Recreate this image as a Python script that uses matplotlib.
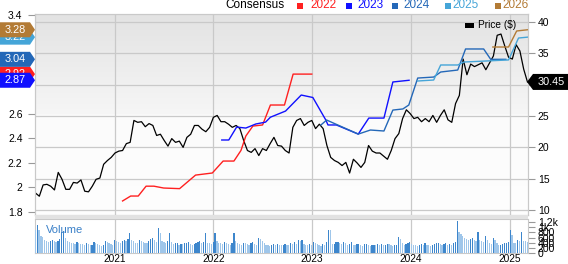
import numpy as np
import pandas as pd
import matplotlib
matplotlib.use("Agg")
import matplotlib.pyplot as plt
from matplotlib.patches import Polygon, Rectangle

plt.rcParams['font.family'] = ['Liberation Sans', 'DejaVu Sans']

W, H = 568, 264

# share price, sampled every two weeks ($)
price = [12.7, 12.2, 14.0, 14.1, 13.8, 13.2, 16.0, 14.9, 13.3, 13.3,
         14.4, 14.3, 14.8, 13.0, 12.9, 13.8, 14.9, 15.1, 17.3, 17.9,
         18.4, 19.1, 19.4, 19.5, 20.6, 20.8, 24.3, 24.0, 24.1, 23.3,
         23.8, 23.5, 21.9, 22.1, 21.1, 20.2, 21.4, 20.8, 21.0, 20.0,
         21.6, 22.1, 23.5, 23.5, 22.9, 22.5, 23.2, 24.8, 25.1, 24.1,
         24.1, 23.7, 23.2, 23.5, 23.0, 21.1, 19.5, 19.2, 19.8, 18.7,
         19.8, 19.5, 20.6, 21.6, 20.3, 20.2, 19.5, 19.1, 23.2, 24.3,
         24.6, 23.5, 24.0, 24.3, 23.0, 23.7, 23.0, 20.3, 18.4, 17.9,
         17.6, 17.1, 17.6, 15.9, 18.1, 17.5, 16.8, 17.6, 20.3, 19.4,
         19.1, 19.1, 18.6, 18.1, 19.5, 21.4, 22.2, 24.6, 26.0, 25.4,
         24.6, 24.8, 24.1, 24.6, 24.1, 25.1, 24.0, 25.1, 26.0, 24.4,
         24.0, 27.0, 28.3, 34.1, 31.6, 33.3, 32.9, 33.2, 33.5, 32.4,
         33.5, 34.6, 37.9, 38.1, 36.2, 34.4, 34.1, 36.4, 35.4, 32.5,
         30.45]
price_dates = pd.date_range('2020-03-14', periods=len(price), freq='14D')

# weekly volume (thousands)
volume = [880, 1080, 880, 650, 640, 500, 470, 430, 480, 520, 450, 420, 480, 560, 820, 840, 600, 450, 420, 390, 380, 360, 430, 400, 360, 340,
          320, 380, 350, 300, 330, 420, 380, 360, 300, 280, 330, 450, 420, 380, 350, 300, 520, 480, 430, 400, 450, 500, 480, 560, 770, 520,
          450, 400, 380, 520, 480, 420, 400, 380, 450, 550, 600, 500, 420, 960, 780, 480, 420, 380, 450, 790, 420, 350, 380, 400, 330, 360,
          340, 380, 400, 420, 360, 320, 350, 400, 420, 460, 380, 440, 770, 400, 380, 360, 420, 790, 480, 400, 380, 360, 420, 380, 350, 320,
          400, 770, 450, 380, 340, 320, 400, 380, 350, 330, 380, 420, 360, 320, 580, 560, 450, 380, 330, 300, 280, 310, 340, 300, 360, 330,
          300, 320, 340, 320, 300, 380, 350, 420, 340, 500, 480, 520, 340, 320, 300, 360, 330, 420, 400, 350, 300, 280, 340, 320, 420, 880,
          880, 340, 360, 420, 440, 400, 360, 440, 380, 300, 360, 440, 320, 300, 340, 360, 300, 280, 340, 360, 300, 280, 300, 320, 300, 340,
          320, 340, 300, 320, 360, 340, 300, 280, 320, 330, 620, 560, 380, 300, 340, 380, 420, 360, 320, 300, 280, 330, 340, 300, 380, 320,
          300, 280, 320, 350, 380, 400, 360, 320, 340, 380, 300, 360, 330, 380, 420, 1250, 800, 720, 650, 600, 560, 500, 560, 600, 520, 480,
          800, 520, 480, 420, 650, 500, 380, 350, 600, 520, 380, 300, 320, 340, 380, 400, 420, 880, 700, 400, 380, 500, 460, 800, 480, 450, 420]
vol_dates = pd.date_range('2020-03-13', periods=len(volume), freq='7D')

# consensus EPS estimates by fiscal year
fy2022_dates = ['2021-01-30', '2021-03-01', '2021-03-29', '2021-04-27', '2021-05-26', '2021-07-01',
                '2021-08-29', '2021-10-27', '2021-12-28', '2022-02-06', '2022-03-18', '2022-04-13',
                '2022-05-01', '2022-05-27', '2022-07-02', '2022-07-31', '2022-09-21', '2022-10-23',
                '2022-12-31']
fy2022 = [1.89, 1.93, 1.93, 2.01, 2.01, 1.995, 1.99, 2.10, 2.117, 2.214, 2.214, 2.30,
          2.417, 2.498, 2.507, 2.669, 2.669, 2.92, 2.92]

fy2023_dates = ['2022-02-01', '2022-02-27', '2022-03-28', '2022-05-01', '2022-06-07', '2022-07-13',
                '2022-07-31', '2022-09-25', '2022-11-22', '2023-01-04', '2023-02-21', '2023-03-01',
                '2023-04-01', '2023-06-21', '2023-07-30', '2023-09-24', '2023-10-27', '2023-12-26']
fy2023 = [2.385, 2.385, 2.49, 2.482, 2.515, 2.53, 2.57, 2.62, 2.75, 2.73, 2.547, 2.507,
          2.507, 2.433, 2.563, 2.563, 2.856, 2.87]

fy2024_dates = ['2023-02-03', '2023-02-24', '2023-06-21', '2023-08-05', '2023-09-24', '2023-10-27',
                '2023-12-03', '2023-12-25', '2024-01-27', '2024-03-26', '2024-04-21', '2024-06-23',
                '2024-07-22', '2024-09-27', '2024-10-23', '2024-12-18']
fy2024 = [2.507, 2.547, 2.433, 2.466, 2.458, 2.628, 2.637, 2.669, 2.888, 2.896, 2.937, 2.953,
          3.124, 3.124, 3.04, 3.04]

fy2025_dates = ['2024-01-27', '2024-03-26', '2024-04-21', '2024-06-23', '2024-07-16', '2024-12-28',
                '2025-02-03', '2025-03-08']
fy2025 = [2.864, 2.872, 2.994, 2.994, 3.018, 3.035, 3.213, 3.22]

fy2026_dates = ['2024-10-31', '2024-12-28', '2025-01-27', '2025-03-08']
fy2026 = [3.14, 3.14, 3.27, 3.28]

years = ['2022', '2023', '2024', '2025', '2026']
colors = ['#ff2020', '#1010ff', '#2468b8', '#45a5d8', '#b37b35']
last_eps = ['2.92', '2.87', '3.04', '3.22', '3.28']

year_ticks = pd.to_datetime(['2021-01-01', '2022-01-01', '2023-01-01', '2024-01-01', '2025-01-01'])
year_labels = ['2021', '2022', '2023', '2024', '2025']

price_ticks = [10, 15, 20, 25, 30, 35, 40]
eps_ticks = [1.8, 2, 2.2, 2.4, 2.6, 3.4]
vol_ticks = [0, 200, 400, 600, 800, 1000, 1200]
vol_labels = ['0', '200', '400', '600', '800', '1k', '1.2k']

PRICE_LIM = (9.2, 41.3)
EPS_LIM = (1.776, 3.408)
XLIM = (pd.Timestamp('2020-03-12'), pd.Timestamp('2025-03-10'))

fig = plt.figure(figsize=(W / 100, H / 100), dpi=100)
fig.patch.set_facecolor('white')

left, right, top, mid, vtop, vbot = 35, 528, 14, 215, 219, 253
main_rect = [left / W, 1 - mid / H, (right - left) / W, (mid - top) / H]
vol_rect = [left / W, 1 - vbot / H, (right - left) / W, (vbot - vtop) / H]

axp = fig.add_axes(main_rect)
axc = axp.twinx()
axv = fig.add_axes(vol_rect)

grid_c = '#c9c9c9'
tick_fs = 7.5

# gradient background
grad = np.ones((200, 1, 3))
t = np.linspace(0, 1, 200)
shade = np.where(t < 0.5, 0.89 + (0.965 - 0.89) * t / 0.5, 0.985 + 0.01 * (t - 0.5) / 0.5)
grad[:, 0, :] = shade[:, None]
axp.imshow(grad, aspect='auto', extent=[0, 1, 0, 1], transform=axp.transAxes, zorder=0)

axp.plot(price_dates, price, color='black', lw=0.9, zorder=4)
axp.set_ylim(*PRICE_LIM)
axp.set_xlim(*XLIM)
axp.yaxis.tick_right()
axp.set_yticks(price_ticks)
# the "30" label sits under the last-price tag
axp.set_yticklabels(['' if v == 30 else str(v) for v in price_ticks])
axp.set_xticks(year_ticks)
axp.tick_params(axis='x', length=0, labelbottom=False)
axp.tick_params(axis='y', length=5, width=0.8, color='#999999', pad=2, labelsize=tick_fs)
axp.grid(True, color=grid_c, lw=0.9)
axp.set_axisbelow(True)

series = [(fy2022_dates, fy2022), (fy2023_dates, fy2023), (fy2024_dates, fy2024),
          (fy2025_dates, fy2025), (fy2026_dates, fy2026)]
for (d, v), c in zip(series, colors):
    axc.plot(pd.to_datetime(d), v, color=c, lw=1.0)
axc.set_ylim(*EPS_LIM)
axc.set_xlim(*XLIM)
axc.yaxis.tick_left()
axc.set_yticks(eps_ticks)
axc.set_yticklabels(['1.8', '2', '2.2', '2.4', '2.6', '3.4'])
axc.tick_params(axis='y', length=5, width=0.8, color='#999999', pad=4, labelsize=tick_fs)

for a in (axp, axc):
    for s in a.spines.values():
        s.set_color(grid_c)
        s.set_linewidth(0.8)

# volume panel
vcol = ['#3d86cc' if i > 0 and volume[i] > volume[i - 1] else '#9fc6ea' for i in range(len(volume))]
axv.bar(vol_dates, volume, width=4.5, color=vcol, zorder=3)
axv.set_xlim(*XLIM)
axv.set_ylim(0, 1320)
axv.yaxis.tick_right()
axv.set_yticks(vol_ticks)
axv.set_yticklabels(vol_labels)
axv.tick_params(axis='y', length=5, width=0.8, color='#999999', pad=2, labelsize=tick_fs)
axv.set_xticks(year_ticks)
axv.set_xticklabels(year_labels)
axv.tick_params(axis='x', length=0, pad=0.5, labelsize=7.3)
axv.grid(True, axis='x', color=grid_c, lw=0.9)
axv.set_axisbelow(True)
for s in axv.spines.values():
    s.set_color(grid_c)
    s.set_linewidth(0.8)
axv.text(0.022, 0.68, 'Volume', transform=axv.transAxes, color='#3a80c8', fontsize=8, va='center')

# gray strip between the panels
fig.patches.append(Rectangle((left / W, 1 - vtop / H), (right - left) / W, (vtop - mid) / H,
                             transform=fig.transFigure, facecolor='#e2e2e2', edgecolor='none'))


def fx(x):
    return x / W


def fy(y):
    return 1 - y / H


# left tags with latest consensus values
def eps_px(val):
    return mid - (val - EPS_LIM[0]) / (EPS_LIM[1] - EPS_LIM[0]) * (mid - top)


order = [3, 4, 0, 2, 1]
for z, i in enumerate(order):
    yc = eps_px(float(last_eps[i]))
    pts = [(0, yc - 7.5), (30, yc - 7.5), (35, yc), (30, yc + 7.5), (0, yc + 7.5)]
    fig.patches.append(Polygon([(fx(x), fy(y)) for x, y in pts], closed=True,
                               transform=fig.transFigure, facecolor=colors[i],
                               edgecolor='none', zorder=10 + 2 * z))
    fig.text(fx(15.5), fy(yc), last_eps[i], color='white', fontsize=7.8,
             ha='center', va='center', zorder=11 + 2 * z)


# right tag with last price
def price_px(val):
    return mid - (val - PRICE_LIM[0]) / (PRICE_LIM[1] - PRICE_LIM[0]) * (mid - top)


yc = price_px(price[-1])
pts = [(527, yc), (533, yc - 8), (568, yc - 8), (568, yc + 8), (533, yc + 8)]
fig.patches.append(Polygon([(fx(x), fy(y)) for x, y in pts], closed=True,
                           transform=fig.transFigure, facecolor='black', edgecolor='none', zorder=10))
fig.text(fx(551), fy(yc), f'{price[-1]:.2f}', color='white', fontsize=7.8,
         ha='center', va='center', zorder=11)

# legend along the top
fig.text(fx(225), fy(5.5), 'Consensus', fontsize=8.5, va='center', ha='left')
sq_x = [297, 346, 392, 445, 495]
tx_x = [310, 357, 403, 452, 502]
for yr, c, sx, tx in zip(years, colors, sq_x, tx_x):
    fig.patches.append(Rectangle((fx(sx), fy(8.5)), 6 / W, 6 / H, transform=fig.transFigure,
                                 facecolor=c, edgecolor='none'))
    fig.text(fx(tx), fy(5.5), yr, color=c, fontsize=8.5, va='center', ha='left')

# price legend inside plot
fig.patches.append(Rectangle((fx(465), fy(28)), 9 / W, 5 / H, transform=fig.transFigure,
                             facecolor='black', edgecolor='none', zorder=5))
fig.text(fx(478), fy(25.5), 'Price ($)', fontsize=7.3, va='center', ha='left', zorder=5)

fig.savefig('out.png', dpi=100)
